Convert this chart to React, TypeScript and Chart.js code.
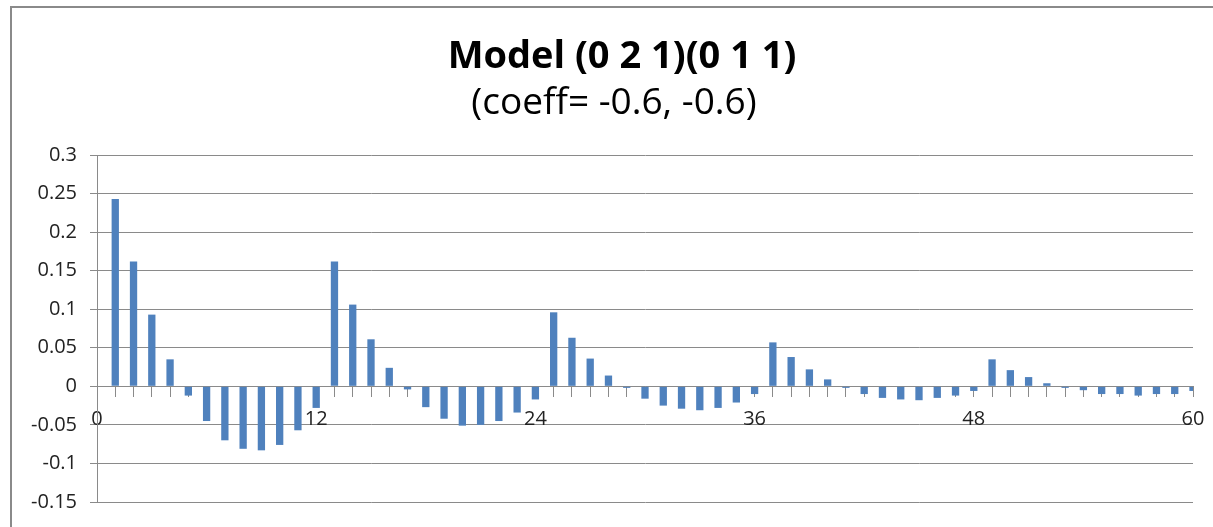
import React, { useEffect, useRef } from "react";
import { Chart, registerables } from "chart.js";

Chart.register(...registerables);

const TITLE = "Model (0 2 1)(0 1 1)";
const SUBTITLE = "(coeff= -0.6, -0.6)";

// lag labels 0..60 (category axis, ticks on marks)
const lagLabels: string[] = [
  "0", "1", "2", "3", "4", "5", "6", "7", "8", "9", "10",
  "11", "12", "13", "14", "15", "16", "17", "18", "19", "20",
  "21", "22", "23", "24", "25", "26", "27", "28", "29", "30",
  "31", "32", "33", "34", "35", "36", "37", "38", "39", "40",
  "41", "42", "43", "44", "45", "46", "47", "48", "49", "50",
  "51", "52", "53", "54", "55", "56", "57", "58", "59", "60",
];

// autocorrelation values for lags 1..60
const acfValues: number[] = [
  0.243, 0.162, 0.093, 0.035, -0.012, -0.045, -0.07, -0.081, -0.083, -0.076,
  -0.057, -0.028, 0.162, 0.106, 0.061, 0.024, -0.004, -0.027, -0.042, -0.051,
  -0.05, -0.045, -0.034, -0.017, 0.096, 0.063, 0.036, 0.014, -0.002, -0.016,
  -0.025, -0.029, -0.031, -0.028, -0.021, -0.01, 0.057, 0.038, 0.022, 0.009,
  -0.002, -0.01, -0.015, -0.017, -0.018, -0.015, -0.012, -0.006, 0.035, 0.021,
  0.012, 0.004, -0.002, -0.005, -0.01, -0.01, -0.012, -0.01, -0.01, -0.006,
];

const xLabelEvery = 12;
const yMin = -0.15;
const yMax = 0.3;
const yStep = 0.05;

const FONT = "'Open Sans', 'DejaVu Sans', sans-serif";
const GRID = "#8a8a8a";
const BAR = "#4F81BD";

// shift title blocks horizontally so they are centred like the reference
const titleShift = {
  id: "titleShift",
  afterLayout(chart: any) {
    for (const box of chart.boxes) {
      if (!box.axis && box.options && box.options.text !== undefined) {
        const dx = box.options.text === TITLE ? 10 : 2;
        box.left += dx;
        box.right += dx;
      }
    }
  },
};

export default function App() {
  const canvasRef = useRef<HTMLCanvasElement | null>(null);

  useEffect(() => {
    const canvas = canvasRef.current;
    if (!canvas) return;
    const chart = new Chart(canvas, {
      type: "bar",
      data: {
        labels: lagLabels,
        datasets: [
          {
            data: [null, ...acfValues],
            backgroundColor: BAR,
            borderWidth: 0,
            barPercentage: 0.4,
            categoryPercentage: 1,
          },
        ],
      },
      plugins: [titleShift],
      options: {
        animation: false,
        responsive: true,
        maintainAspectRatio: false,
        layout: { padding: { left: 31, right: 20, top: 8, bottom: 24 } },
        plugins: {
          legend: { display: false },
          tooltip: { enabled: false },
          title: {
            display: true,
            text: TITLE,
            color: "#000",
            font: { family: FONT, size: 38, weight: "bold" },
            padding: { top: 26, bottom: 0 },
          },
          subtitle: {
            display: true,
            text: SUBTITLE,
            color: "#000",
            font: { family: FONT, size: 37, weight: "normal" },
            padding: { top: 2, bottom: 29 },
          },
        },
        scales: {
          x: {
            type: "category",
            position: { y: 0 },
            offset: false,
            grid: {
              offset: false,
              drawOnChartArea: false,
              drawTicks: true,
              tickLength: 10,
              color: GRID,
            },
            border: { display: true, color: GRID, width: 1 },
            ticks: {
              autoSkip: false,
              maxRotation: 0,
              minRotation: 0,
              padding: 8,
              color: "#222",
              font: { family: FONT, size: 20, lineHeight: 1.5 },
              callback: (_v: any, i: number) =>
                i % xLabelEvery === 0 ? lagLabels[i] : "",
            },
          },
          y: {
            min: yMin,
            max: yMax,
            afterFit: (scale: any) => {
              scale.width = 66;
            },
            grid: {
              color: GRID,
              drawTicks: true,
              tickLength: 7,
            },
            border: { display: true, color: GRID, width: 1 },
            ticks: {
              stepSize: yStep,
              padding: 13,
              color: "#222",
              font: { family: FONT, size: 20 },
              callback: (v: any) => String(Math.round(Number(v) * 100) / 100),
            },
          },
        },
      },
    });
    return () => chart.destroy();
  }, []);

  return (
    <div
      style={{
        position: "fixed",
        left: 0,
        top: 0,
        width: 1213,
        height: 527,
        background: "#fff",
      }}
    >
      <div
        style={{
          position: "absolute",
          left: 10,
          top: 6,
          right: 0,
          bottom: 0,
          borderLeft: "2px solid #8a8a8a",
          borderTop: "2px solid #8a8a8a",
        }}
      />
      <canvas ref={canvasRef} style={{ position: "absolute", left: 0, top: 0 }} />
    </div>
  );
}
